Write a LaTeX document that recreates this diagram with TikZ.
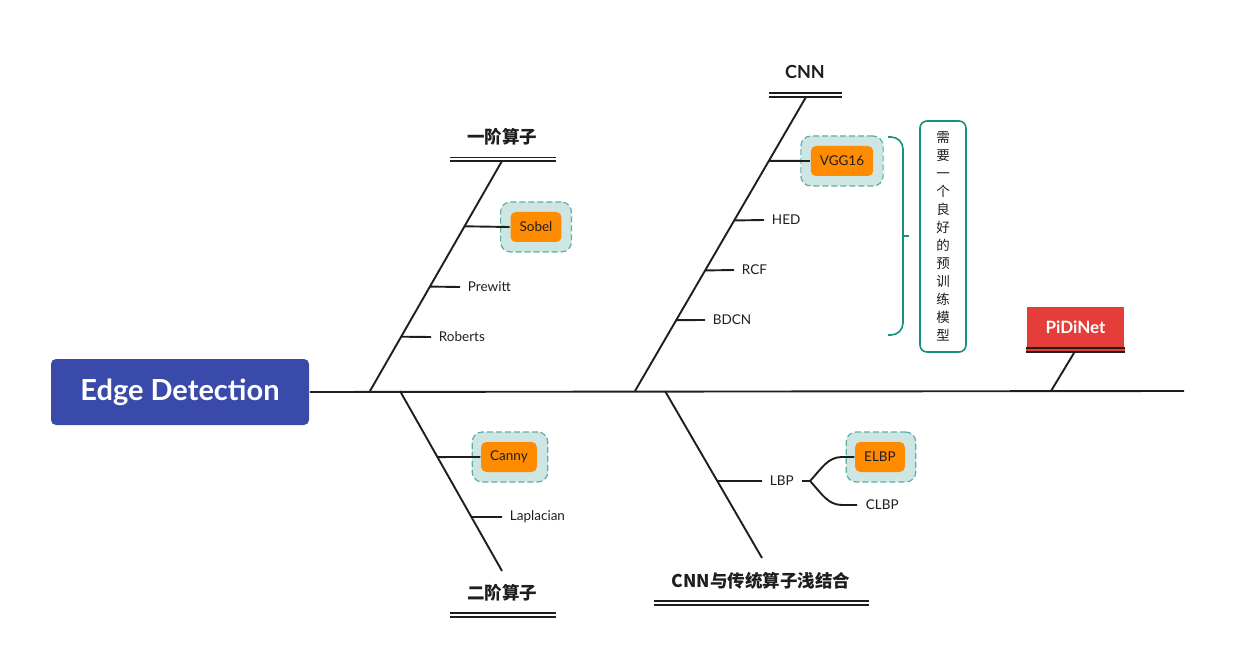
\documentclass[tikz,border=0pt]{standalone}
\usepackage{fontspec}
\setmainfont{Lato}
\newfontfamily\cjk{Noto Sans CJK SC}
\usetikzlibrary{positioning,calc}
\definecolor{edgeblue}{HTML}{3A4AAA}
\definecolor{leaforange}{HTML}{FF8C00}
\definecolor{markteal}{HTML}{CDE6E4}
\definecolor{dashteal}{HTML}{5DAEA3}
\definecolor{noteteal}{HTML}{17907F}
\definecolor{pidired}{HTML}{E53D38}
\definecolor{ink}{HTML}{1E1E1E}
\begin{document}
\begin{tikzpicture}
  [x=1pt,y=-1pt,line width=1.9pt,draw=ink,
   every node/.style={inner sep=0pt,text=ink,font=\fontsize{13.5}{15}\selectfont},
   root/.style={fill=edgeblue,text=white,rounded corners=5pt,minimum width=258pt,
     minimum height=66pt,font=\fontsize{29}{32}\selectfont\bfseries},
   title/.style={font=\cjk\fontsize{17.5}{20}\selectfont\bfseries},
   bar/.style={line width=1.8pt,double,double distance=2pt},
   leaf/.style={anchor=west,inner xsep=7pt,inner ysep=3pt},
   hilite/.style={fill=leaforange,rounded corners=5pt,minimum height=30pt,inner xsep=9pt},
   halo/.style={fill=markteal,draw=dashteal,dash pattern=on 6pt off 3pt,line width=1.2pt,
     rounded corners=10pt,minimum height=50pt,inner xsep=19pt},
   note/.style={draw=noteteal,line width=1.6pt,rounded corners=7pt,fill=white,
     minimum width=46pt,minimum height=231pt,align=center,
     font=\cjk\fontsize{13.5}{18}\selectfont}]
  \useasboundingbox (0,0) rectangle (1234,668);
  % spine
  \node[root] (root) at (180,392) {Edge Detection};
  \coordinate (tail) at (1184,391);
  \draw (root.east) -- (tail);

  % first order operators
  \node[title] (first) at (502,137) {一阶算子};
  \draw[bar] (450,159.5) -- (556,159.5);
  \coordinate (b1s) at (370,391);
  \coordinate (b1e) at (502,161);
  \draw (b1s) -- (b1e) coordinate[pos=.716] (sobj) coordinate[pos=.454] (prej)
    coordinate[pos=.236] (robj);
  \node[halo] (sobelhalo) at (536,227) {\phantom{Sobel}};
  \node[hilite] (sobel) at (536,227) {Sobel};
  \node[leaf] (prewitt) at (460,287) {Prewitt};
  \node[leaf] (roberts) at (431,337) {Roberts};
  \draw (sobj) -- (sobel.west);
  \draw (prej) -- (prewitt.west);
  \draw (robj) -- (roberts.west);

  % second order operators
  \node[title] (second) at (502,593) {二阶算子};
  \draw[bar] (450,615) -- (556,615);
  \coordinate (b2s) at (400,391);
  \coordinate (b2e) at (502,571);
  \draw (b2s) -- (b2e) coordinate[pos=.367] (canj) coordinate[pos=.7] (lapj);
  \node[halo] (cannyhalo) at (510,457) {\phantom{Canny}};
  \node[hilite] (canny) at (509,457) {Canny};
  \node[leaf] (laplacian) at (502,517) {Laplacian};
  \draw (canj) -- (canny.west);
  \draw (lapj) -- (laplacian.west);

  % CNN
  \node[title,font=\fontsize{18}{20}\selectfont\bfseries] (cnn) at (805,72) {CNN};
  \draw[bar] (769,95) -- (842,95);
  \coordinate (b3s) at (635,391);
  \coordinate (b3e) at (806,97);
  \draw (b3s) -- (b3e) coordinate[pos=.783] (vggj) coordinate[pos=.58] (hedj)
    coordinate[pos=.41] (rcfj) coordinate[pos=.241] (bdcnj);
  \node[halo] (vgghalo) at (842,161) {\phantom{VGG16}};
  \node[hilite] (vgg) at (842,161) {VGG16};
  \node[leaf] (hed) at (764,220) {HED};
  \node[leaf] (rcf) at (734,270) {RCF};
  \node[leaf] (bdcn) at (705,320) {BDCN};
  \draw (vggj) -- (vgg.west);
  \draw (hedj) -- (hed.west);
  \draw (rcfj) -- (rcf.west);
  \draw (bdcnj) -- (bdcn.west);
  % summary brace
  \coordinate (bracetop) at (888,137);
  \coordinate (bracemid) at (903,236);
  \coordinate (bracebot) at (888,335);
  \draw[noteteal,line width=1.6pt,rounded corners=12pt]
    (bracetop) -| (bracemid) |- (bracebot);
  \draw[noteteal,line width=1.6pt] (bracemid) -- ++(6,0);
  \node[note] (pretrain) at (943,236.5)
    {需\\要\\一\\个\\良\\好\\的\\预\\训\\练\\模\\型};

  % CNN with classic operators
  \node[title] (mixed) at (761,581) {CNN与传统算子浅结合};
  \draw[bar] (654,603) -- (869,603);
  \coordinate (b4s) at (665,391);
  \coordinate (b4e) at (762,558);
  \draw (b4s) -- (b4e) coordinate[pos=.539] (lbpj);
  \node[leaf] (lbp) at (762,481) {LBP};
  \draw (lbpj) -- (lbp.west);
  \coordinate (fork) at (810,481);
  \node[halo] (elbphalo) at (881,457) {\phantom{ELBP}};
  \node[hilite] (elbp) at (880,457) {ELBP};
  \node[leaf,inner xsep=8pt] (clbp) at (857,505) {CLBP};
  \draw (lbp.east) -- (fork);
  \draw (fork) .. controls (822,468) and (828,457) .. (842,457) -- (elbp.west);
  \draw (fork) .. controls (822,494) and (828,505) .. (842,505) -- (clbp.west);

  % PiDiNet
  \node[fill=pidired,text=white,minimum width=97pt,minimum height=40pt,
    font=\fontsize{17}{20}\selectfont\bfseries] (pidinet) at (1075.5,327) {PiDiNet};
  \draw[bar,double=pidired] ($(pidinet.south west)+(0,2)$) -- ($(pidinet.south east)+(0,2)$);
  \coordinate (b5s) at (1051,391);
  \draw (b5s) -- ($(pidinet.south)+(-1.5,5)$);
\end{tikzpicture}
\end{document}
